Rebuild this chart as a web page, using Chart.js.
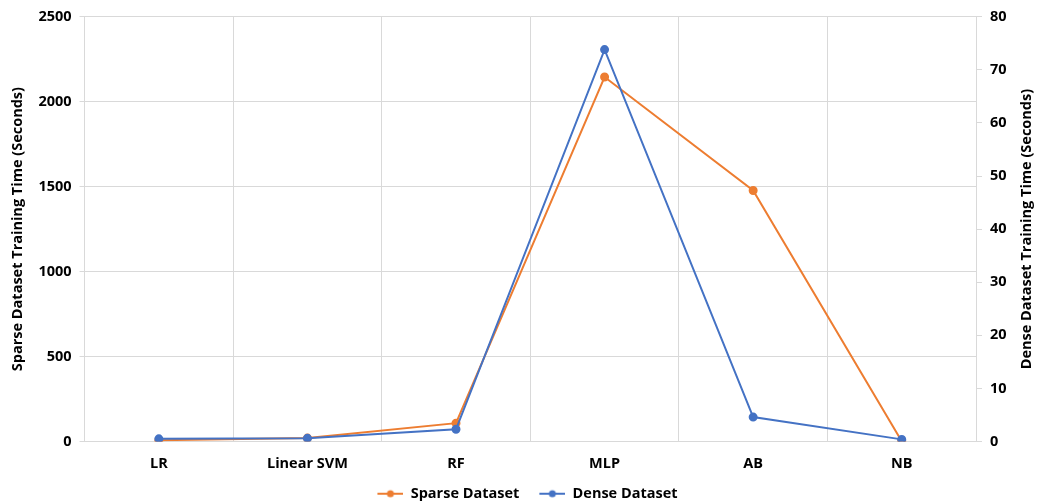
<!DOCTYPE html>
<html><head><meta charset="utf-8">
<script src="https://cdn.jsdelivr.net/npm/chart.js@4"></script>
<style>html,body{margin:0;padding:0;background:#fff;}#wrap{width:1037px;height:504px;}</style>
</head><body><div id="wrap"><canvas id="c" width="1037" height="504"></canvas></div>
<script>
const categories = ["LR", "Linear SVM", "RF", "MLP", "AB", "NB"];
const sparseValues = [8, 20, 108, 2145, 1477, 2];
const denseValues = [0.5, 0.6, 2.3, 73.8, 4.6, 0.4];
const leftTicks = [0, 500, 1000, 1500, 2000, 2500];
const rightTicks = [0, 10, 20, 30, 40, 50, 60, 70, 80];
const leftTitle = "Sparse Dataset Training Time (Seconds)";
const rightTitle = "Dense Dataset Training Time (Seconds)";

const ORANGE = "#ED7D31", BLUE = "#4472C4";
const FONT = "'Open Sans', sans-serif";
const FS = 14.5;
const ICON_W = 36, ICON_GAP = 10;

function legendIcon(color){
  const cv = document.createElement('canvas');
  cv.width = ICON_W; cv.height = 10;
  const g = cv.getContext('2d');
  g.strokeStyle = color; g.lineWidth = 2;
  g.beginPath(); g.moveTo(ICON_GAP,5); g.lineTo(ICON_W,5); g.stroke();
  g.fillStyle = color; g.beginPath(); g.arc((ICON_GAP+ICON_W)/2,5,3.5,0,Math.PI*2); g.fill();
  return cv;
}

const rightTitlePlugin = {
  id: 'rightTitle',
  afterDraw(chart){
    const s = chart.scales.y1;
    const ctx = chart.ctx;
    ctx.save();
    ctx.font = `bold ${FS}px ${FONT}`;
    ctx.fillStyle = '#000';
    ctx.textAlign = 'center';
    ctx.textBaseline = 'middle';
    const x = s.right - 9;
    const y = (chart.chartArea.top + chart.chartArea.bottom) / 2;
    ctx.translate(x, y);
    ctx.rotate(-Math.PI/2);
    ctx.fillText(rightTitle, 0, 0);
    ctx.restore();
  }
};

new Chart(document.getElementById('c'), {
  type: 'line',
  data: {
    labels: categories,
    datasets: [
      {label: "Sparse Dataset", data: sparseValues, yAxisID: 'y', borderColor: ORANGE, backgroundColor: ORANGE,
       borderWidth: 2, pointRadius: 3.5, pointHoverRadius: 3.5, tension: 0, order: 1},
      {label: "Dense Dataset", data: denseValues, yAxisID: 'y1', borderColor: BLUE, backgroundColor: BLUE,
       borderWidth: 2, pointRadius: 3.5, pointHoverRadius: 3.5, tension: 0, order: 0}
    ]
  },
  plugins: [rightTitlePlugin],
  options: {
    responsive: false, animation: false,
    layout: {padding: {left: 9, right: 1, top: 11, bottom: -7}},
    plugins: {
      tooltip: {enabled: false},
      legend: {
        position: 'bottom',
        labels: {
          usePointStyle: true, pointStyleWidth: ICON_W, boxWidth: ICON_W, boxHeight: 10, padding: 10,
          color: '#000', font: {family: FONT, size: FS, weight: 'bold'},
          generateLabels: (chart) => chart.data.datasets.map((ds, i) => ({
            text: ds.label, pointStyle: legendIcon(ds.borderColor), fillStyle: ds.borderColor,
            strokeStyle: ds.borderColor, lineWidth: 0, datasetIndex: i, hidden: false
          }))
        }
      }
    },
    scales: {
      x: {
        offset: true,
        grid: {offset: true, color: '#d9d9d9', drawTicks: false},
        border: {display: false},
        ticks: {color: '#000', padding: 14, font: {family: FONT, size: FS, weight: 'bold'}, maxRotation: 0},
        afterFit: (s) => { s.height = 35; }
      },
      y: {
        position: 'left', min: 0, max: 2500,
        afterBuildTicks: (s) => { s.ticks = leftTicks.map(v => ({value: v})); },
        grid: {color: '#d9d9d9', tickLength: 5},
        border: {display: false},
        ticks: {color: '#000', padding: 8, font: {family: FONT, size: FS, weight: 'bold'}, callback: (v) => String(v)},
        title: {display: true, text: leftTitle, color: '#000',
                font: {family: FONT, size: FS, weight: 'bold'}, padding: {top: 0, bottom: 4}}
      },
      y1: {
        position: 'right', min: 0, max: 80,
        afterBuildTicks: (s) => { s.ticks = rightTicks.map(v => ({value: v})); },
        grid: {drawOnChartArea: false, color: '#d9d9d9', tickLength: 6},
        border: {display: true, color: '#d9d9d9', width: 1},
        ticks: {color: '#000', padding: 8, font: {family: FONT, size: FS, weight: 'bold'}, callback: (v) => String(v)},
        title: {display: true, text: rightTitle, color: 'rgba(0,0,0,0)',
                font: {family: FONT, size: FS, weight: 'bold'}, padding: {top: 4, bottom: 0}}
      }
    }
  }
});
</script></body></html>
